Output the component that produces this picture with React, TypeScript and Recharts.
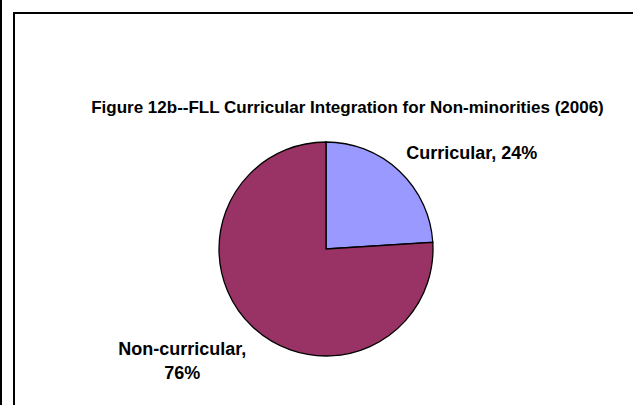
import { PieChart, Pie, Cell } from "recharts";

const CATEGORIES = ["Curricular", "Non-curricular"];
const VALUES = [24, 76];
const COLORS = ["#9999FF", "#993366"];

const TITLE = "Figure 12b--FLL Curricular Integration for Non-minorities (2006)";

const data = CATEGORIES.map((name, i) => ({ name, value: VALUES[i] }));

const FONT = "'Liberation Sans', Arial, sans-serif";

// label placement relative to slice mid angle
const RADIAN = Math.PI / 180;

function renderLabel(props: any) {
  const { cx, cy, midAngle, outerRadius, index, name, value } = props;
  const sin = Math.sin(-midAngle * RADIAN);
  const cos = Math.cos(-midAngle * RADIAN);
  const r = outerRadius + 30;
  if (index === 0) {
    const x = cx + r * cos + 52;
    const y = cy + r * sin + 10;
    return (
      <text x={x} y={y} textAnchor="middle" fill="#000" fontSize={18} fontWeight="bold" fontFamily={FONT}>
        {`${name}, ${value}%`}
      </text>
    );
  }
  const x = cx + r * cos - 50;
  const y = cy + r * sin + 6;
  return (
    <text x={x} y={y} textAnchor="middle" fill="#000" fontSize={18} fontWeight="bold" fontFamily={FONT}>
      <tspan x={x} dy={0}>{`${name},`}</tspan>
      <tspan x={x} dy={24}>{`${value}%`}</tspan>
    </text>
  );
}

export default function App() {
  return (
    <div style={{ position: "absolute", left: 0, top: 0, width: 633, height: 405, background: "#fff", overflow: "hidden" }}>
      <div style={{ position: "absolute", left: 0, top: 0, width: 2, height: 405, background: "#000" }} />
      <div
        style={{
          position: "absolute",
          left: 13,
          top: 12,
          width: 640,
          height: 420,
          borderLeft: "2px solid #000",
          borderTop: "2px solid #000",
        }}
      />
      <div
        style={{
          position: "absolute",
          left: 15,
          top: 98,
          width: 665,
          textAlign: "center",
          fontFamily: FONT,
          fontWeight: "bold",
          fontSize: 17,
          lineHeight: "20px",
          color: "#000",
          whiteSpace: "nowrap",
        }}
      >
        {TITLE}
      </div>
      <div style={{ position: "absolute", left: 0, top: 0 }}>
        <PieChart width={633} height={405} margin={{ top: 0, right: 0, bottom: 0, left: 0 }}>
          <Pie
            data={data}
            dataKey="value"
            nameKey="name"
            cx={326}
            cy={249}
            outerRadius={107}
            startAngle={90}
            endAngle={-270}
            stroke="#000"
            strokeWidth={1.3}
            label={renderLabel}
            labelLine={false}
            isAnimationActive={false}
          >
            {data.map((d, i) => (
              <Cell key={d.name} fill={COLORS[i]} />
            ))}
          </Pie>
        </PieChart>
      </div>
    </div>
  );
}
